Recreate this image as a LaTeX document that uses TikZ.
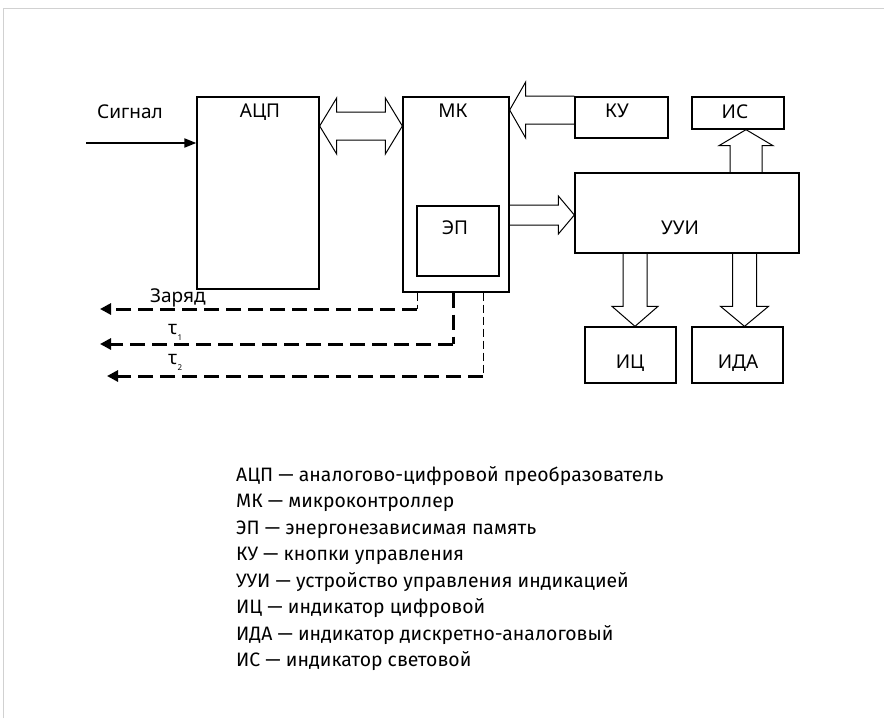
\documentclass[tikz,border=0pt]{standalone}
\usepackage{fontspec}
\setmainfont{Noto Sans}
\newfontfamily\legfont{Fira Sans}
\usetikzlibrary{arrows.meta,calc}
\newcommand\blkH[6]{% tail, tip, yc, shaft half, head half, head length
  \draw[blk] let \p1=(#1), \p2=(#2), \n1={sign(\x2-\x1)} in
    (\x1,#3pt+#4pt) -- (\x2-\n1*#6pt,#3pt+#4pt) -- (\x2-\n1*#6pt,#3pt+#5pt) -- (\x2,#3pt)
    -- (\x2-\n1*#6pt,#3pt-#5pt) -- (\x2-\n1*#6pt,#3pt-#4pt) -- (\x1,#3pt-#4pt);}
\newcommand\blkV[6]{% tail, tip, xc, shaft half, head half, head length
  \draw[blk] let \p1=(#1), \p2=(#2), \n1={sign(\y2-\y1)} in
    (#3pt+#4pt,\y1) -- (#3pt+#4pt,\y2-\n1*#6pt) -- (#3pt+#5pt,\y2-\n1*#6pt) -- (#3pt,\y2)
    -- (#3pt-#5pt,\y2-\n1*#6pt) -- (#3pt-#4pt,\y2-\n1*#6pt) -- (#3pt-#4pt,\y1);}
\newcommand\blkD[6]{% left node point, right node point, yc, shaft half, head half, head length
  \draw[blk] let \p1=(#1), \p2=(#2) in
    (\x1,#3pt) -- (\x1+#6pt,#3pt+#5pt) -- (\x1+#6pt,#3pt+#4pt) -- (\x2-#6pt,#3pt+#4pt)
    -- (\x2-#6pt,#3pt+#5pt) -- (\x2,#3pt) -- (\x2-#6pt,#3pt-#5pt) -- (\x2-#6pt,#3pt-#4pt)
    -- (\x1+#6pt,#3pt-#4pt) -- (\x1+#6pt,#3pt-#5pt) -- cycle;}
\begin{document}
\begin{tikzpicture}[x=1pt,y=1pt,
  box/.style n args={2}{draw,line width=1.3pt,inner sep=0pt,minimum width=#1,minimum height=#2},
  lbl/.style={inner sep=0pt,font=\fontsize{19}{21}\selectfont},
  leg/.style={inner sep=0pt,anchor=base west,font=\legfont\fontsize{19.4}{21}\selectfont},
  blk/.style={line width=1pt,line join=miter},
  thickdash/.style={line width=3pt,dash pattern=on 15pt off 7pt,-{Triangle[length=11pt,width=11pt]}},
  thindash/.style={line width=1pt,dash pattern=on 8pt off 4pt}]
\useasboundingbox (0,0) rectangle (884,-718);
\draw[black!18,line width=1.5pt] (3.5,-718) -- (3.5,-8.5) -- (884,-8.5);
% boxes
\node[box={122}{192}] (acp) at (258,-193) {};
\node[box={106}{195}] (mk) at (456,-194.5) {};
\node[box={82}{70}] (ep) at (458,-241) {};
\node[box={93}{41}] (ku) at (621.5,-117.5) {};
\node[box={92}{32}] (is) at (738,-113) {};
\node[box={224}{80}] (uui) at (687,-213) {};
\node[box={91}{56}] (ic) at (630.5,-355) {};
\node[box={91}{56}] (ida) at (737.5,-355) {};
% box labels
\node[lbl] (tacp) at (260,-112) {АЦП};
\node[lbl] (tmk) at (453,-111) {МК};
\node[lbl] (tku) at (617,-111) {КУ};
\node[lbl] (tis) at (735,-112) {ИС};
\node[lbl] (tep) at (455,-228) {ЭП};
\node[lbl] (tuui) at (680,-228) {УУИ};
\node[lbl] (tic) at (630,-363) {ИЦ};
\node[lbl] (tida) at (738,-363) {ИДА};
\node[lbl] (tsig) at (130,-112) {Сигнал};
% signal
\coordinate (sig) at (86,-143);
\draw[line width=2pt,-{Triangle[length=12pt,width=9pt]}] (sig) -- (sig -| acp.west);
% block arrows
\blkD{acp.east}{mk.west}{-126}{14}{28}{17}
\blkH{ku.west}{mk.east}{-110}{14}{28}{16}
\blkH{mk.east}{uui.west}{-215}{10}{19}{16}
\blkV{uui.north}{is.south}{746}{16}{27}{16}
\blkV{uui.south}{ic.north}{635}{12}{23}{20}
\blkV{uui.south}{ida.north}{744.5}{12}{24}{20}
% dashed outputs
\coordinate (zc) at (417,-309);
\coordinate (ze) at (100,-309);
\coordinate (t1c) at (453,-344);
\coordinate (t1e) at (100,-344);
\coordinate (t2c) at (483,-376);
\coordinate (t2e) at (107,-376);
\draw[thindash] (mk.south -| zc) -- (zc);
\draw[thickdash] (zc) -- (ze);
\draw[line width=3pt,dash pattern=on 15pt off 7pt] (mk.south -| t1c) -- (t1c);
\draw[thickdash] (t1c) -- (t1e);
\draw[thindash] (mk.south -| t2c) -- (t2c);
\draw[thickdash] (t2c) -- (t2e);
\node[lbl,anchor=base west] (tzar) at (150,-302) {Заряд};
\node[lbl,anchor=base west] (ttau1) at (168,-334) {τ\raisebox{-6pt}{\fontsize{8}{8}\selectfont 1}};
\node[lbl,anchor=base west] (ttau2) at (168,-364) {τ\raisebox{-6pt}{\fontsize{8}{8}\selectfont 2}};
% legend
\node[leg] (l1) at (236,-481) {АЦП — аналогово-цифровой преобразователь};
\node[leg] (l2) at (236,-507.5) {МК — микроконтроллер};
\node[leg] (l3) at (236,-534) {ЭП — энергонезависимая память};
\node[leg] (l4) at (236,-560.5) {КУ — кнопки управления};
\node[leg] (l5) at (236,-587) {УУИ — устройство управления индикацией};
\node[leg] (l6) at (236,-613.5) {ИЦ — индикатор цифровой};
\node[leg] (l7) at (236,-640) {ИДА — индикатор дискретно-аналоговый};
\node[leg] (l8) at (236,-666.5) {ИС — индикатор световой};
\end{tikzpicture}
\end{document}
